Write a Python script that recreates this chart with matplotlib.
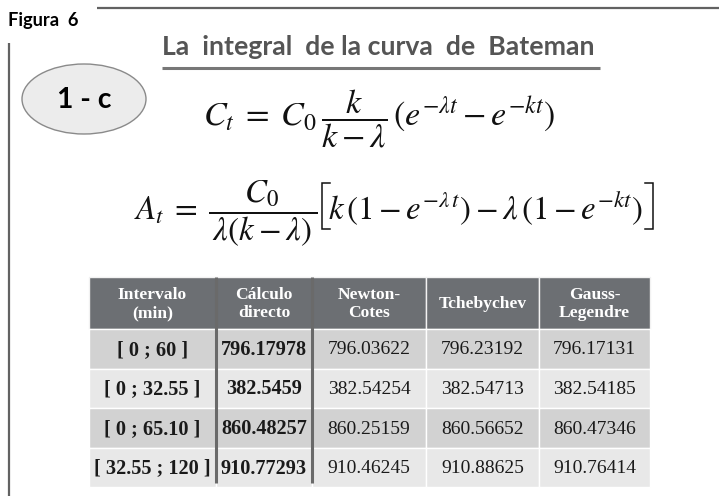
import matplotlib
matplotlib.use("Agg")
import matplotlib.pyplot as plt
from matplotlib.patches import Ellipse, Rectangle

# ---------------------------------------------------------------- data
headers   = ["Intervalo\n(min)", "Cálculo\ndirecto", "Newton-\nCotes", "Tchebychev", "Gauss-\nLegendre"]
intervals = ["[ 0 ; 60 ]", "[ 0 ; 32.55 ]", "[ 0 ; 65.10 ]", "[ 32.55 ; 120 ]"]
directo   = [796.17978, 382.5459, 860.48257, 910.77293]
newton    = [796.03622, 382.54254, 860.25159, 910.46245]
tcheby    = [796.23192, 382.54713, 860.56652, 910.88625]
gauss     = [796.17131, 382.54185, 860.47346, 910.76414]

FORM_C  = r"$C_t\;=\;C_0\,\dfrac{k}{k-\lambda}\,(e^{-\lambda t} - e^{-kt})$"
FORM_A1 = r"$A_t\;=\;\dfrac{C_0}{\,\lambda(k-\lambda)\,}$"
FORM_A2 = r"$k\,(1-e^{-\lambda\, t}) - \lambda\,(1-e^{-kt})$"

# ---------------------------------------------------------------- style
plt.rcParams["mathtext.fontset"] = "stix"
SANS  = ["Lato", "DejaVu Sans"]
SERIF = ["Liberation Serif", "DejaVu Serif"]
LINE  = "#626262"
HEAD  = "#6c6f73"
ROW_D = "#d2d2d2"
ROW_L = "#e8e8e8"
INK   = "#111111"

W, H = 719, 496
fig = plt.figure(figsize=(W / 100, H / 100), dpi=100)
ax = fig.add_axes([0, 0, 1, 1])
ax.set_xlim(0, W)
ax.set_ylim(H, 0)
ax.axis("off")
rend = fig.canvas.get_renderer()


def put(x, y, s, width=None, size=12, **kw):
    """Place text; if width is given, scale font so the text spans that many px."""
    t = ax.text(x, y, s, fontsize=size, **kw)
    if width:
        bb = t.get_window_extent(rend)
        t.set_fontsize(size * width / bb.width)
    return t


def bracket(x, y0, y1, tick, lw=1.1):
    """Tall square bracket drawn as a polyline; tick > 0 opens right."""
    ax.plot([x + tick, x, x, x + tick], [y0, y0, y1, y1], color=INK, lw=lw,
            solid_joinstyle="miter")


# ---------------------------------------------------------------- frame
ax.plot([97, W], [8, 8], color=LINE, lw=1.6, solid_capstyle="butt")
ax.plot([9, 9], [43, H], color=LINE, lw=1.6, solid_capstyle="butt")
put(8, 26, "Figura  6", width=70, family=SANS, weight="bold",
    ha="left", va="baseline")

# ---------------------------------------------------------------- badge
ax.add_patch(Ellipse((84, 99), 124, 70, facecolor="#ececec",
                     edgecolor="#8a8a8a", lw=1.0))
put(84, 100, "1 - c", width=54, family=SANS, weight="bold",
    ha="center", va="center")

# ---------------------------------------------------------------- title + formulas
put(162, 55, "La  integral  de la curva  de  Bateman", width=431,
    family=SANS, weight="bold", color="#555555", ha="left", va="baseline")
ax.plot([162, 600], [68, 68], color="#777777", lw=2.2, solid_capstyle="butt")

put(203, 126, FORM_C, width=354, color=INK, ha="left", va="baseline")

# A_t: fraction part, then the bracketed part with tall brackets
a2 = put(328, 220, FORM_A2, width=316, color=INK, ha="left", va="baseline")
ax.text(317, 220, FORM_A1, fontsize=a2.get_fontsize(), color=INK,
        ha="right", va="baseline")
bracket(322, 183, 229, 8)
bracket(653, 183, 229, -8)

# ---------------------------------------------------------------- table
col_x = [89, 216, 312, 426, 539, 650]
row_y = [277, 329, 369, 408, 448, 487]
columns = [intervals] + [[str(v) for v in c] for c in (directo, newton, tcheby, gauss)]

for j, head in enumerate(headers):
    x0, x1 = col_x[j], col_x[j + 1]
    ax.add_patch(Rectangle((x0, row_y[0]), x1 - x0, row_y[1] - row_y[0],
                           facecolor=HEAD, edgecolor="#f2f2f2", lw=1.0))
    ax.text((x0 + x1) / 2, (row_y[0] + row_y[1]) / 2 + 1, head, color="white",
            family=SERIF, weight="bold", fontsize=12.6, ha="center", va="center",
            linespacing=1.2)

for i in range(len(intervals)):
    y0, y1 = row_y[i + 1], row_y[i + 2]
    for j, col in enumerate(columns):
        x0, x1 = col_x[j], col_x[j + 1]
        ax.add_patch(Rectangle((x0, y0), x1 - x0, y1 - y0,
                               facecolor=ROW_D if i % 2 == 0 else ROW_L,
                               edgecolor="white", lw=1.0))
        bold = j < 2
        ax.text((x0 + x1) / 2, (y0 + y1) / 2 + 1, col[i], color="#1a1a1a",
                family=SERIF, weight="bold" if bold else "normal",
                fontsize=14.6 if bold else 14, ha="center", va="center")

# thick dividers after the first two columns
for x in col_x[1:3]:
    ax.plot([x, x], [row_y[0], row_y[-1] - 4], color="#6a6a6a", lw=2.2,
            solid_capstyle="butt")

fig.savefig("out.png", dpi=100)
